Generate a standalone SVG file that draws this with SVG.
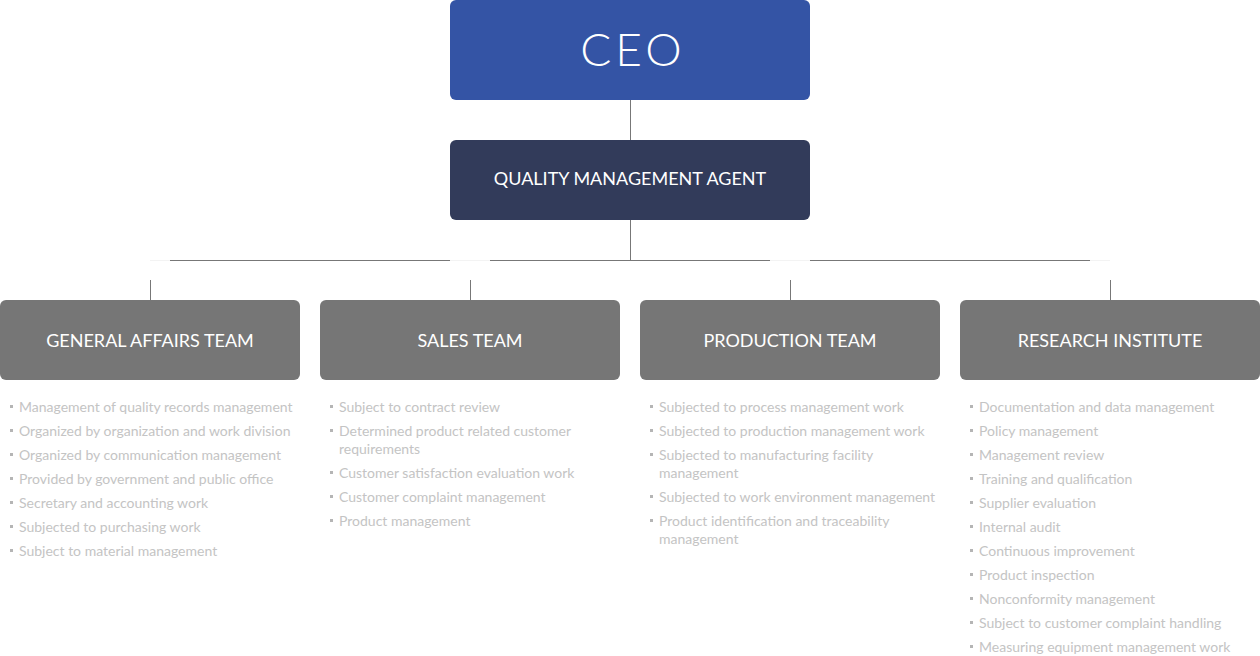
<svg xmlns="http://www.w3.org/2000/svg" width="1260" height="656" viewBox="0 0 1260 656">
<style>
.box-ceo{fill:#3454a5}
.box-qma{fill:#323b5a}
.box-team{fill:#767676}
.t-ceo{font-family:Lato,"Liberation Sans",sans-serif;font-weight:300;font-size:46px;fill:#fff;text-anchor:middle;letter-spacing:4px}
.t-head{font-family:Lato,"Liberation Sans",sans-serif;font-size:18px;fill:#fff;text-anchor:middle}
.item{font-family:Lato,"Liberation Sans",sans-serif;font-size:14px;fill:#c4c4c4}
.line{stroke:#777;stroke-width:1;fill:none}
.faint{stroke:#f3f3f3;stroke-width:1;fill:none}
</style>
<defs>
<rect id="dot" width="3" height="3" fill="#b5b5b5"/>
</defs>
<rect width="1260" height="656" fill="#fff"/>
<g id="connectors">
<path class="line" d="M630.5 100V140M630.5 220V260.5M170 260.5H450M490 260.5H770M810 260.5H1090M150.5 280V300M470.5 280V300M790.5 280V300M1110.5 280V300"/>
<path class="faint" d="M150 260.5H170M450 260.5H490M770 260.5H810M1090 260.5H1110"/>
</g>
<g id="ceo">
<rect class="box-ceo" x="450" y="0" width="360" height="100" rx="6"/>
<text class="t-ceo" x="633" y="66">CEO</text>
</g>
<g id="qma">
<rect class="box-qma" x="450" y="140" width="360" height="80" rx="6"/>
<text class="t-head" x="630" y="185">QUALITY MANAGEMENT AGENT</text>
</g>
<g id="general-affairs">
<rect class="box-team" x="0" y="300" width="300" height="80" rx="6"/>
<text class="t-head" x="150" y="347">GENERAL AFFAIRS TEAM</text>
<use href="#dot" x="10" y="405"/><text class="item" x="19" y="412">Management of quality records management</text>
<use href="#dot" x="10" y="429"/><text class="item" x="19" y="436">Organized by organization and work division</text>
<use href="#dot" x="10" y="453"/><text class="item" x="19" y="460">Organized by communication management</text>
<use href="#dot" x="10" y="477"/><text class="item" x="19" y="484">Provided by government and public office</text>
<use href="#dot" x="10" y="501"/><text class="item" x="19" y="508">Secretary and accounting work</text>
<use href="#dot" x="10" y="525"/><text class="item" x="19" y="532">Subjected to purchasing work</text>
<use href="#dot" x="10" y="549"/><text class="item" x="19" y="556">Subject to material management</text>
</g>
<g id="sales">
<rect class="box-team" x="320" y="300" width="300" height="80" rx="6"/>
<text class="t-head" x="470" y="347">SALES TEAM</text>
<use href="#dot" x="330" y="405"/><text class="item" x="339" y="412">Subject to contract review</text>
<use href="#dot" x="330" y="429"/><text class="item" x="339" y="436">Determined product related customer</text>
<text class="item" x="339" y="454">requirements</text>
<use href="#dot" x="330" y="471"/><text class="item" x="339" y="478">Customer satisfaction evaluation work</text>
<use href="#dot" x="330" y="495"/><text class="item" x="339" y="502">Customer complaint management</text>
<use href="#dot" x="330" y="519"/><text class="item" x="339" y="526">Product management</text>
</g>
<g id="production">
<rect class="box-team" x="640" y="300" width="300" height="80" rx="6"/>
<text class="t-head" x="790" y="347">PRODUCTION TEAM</text>
<use href="#dot" x="650" y="405"/><text class="item" x="659" y="412">Subjected to process management work</text>
<use href="#dot" x="650" y="429"/><text class="item" x="659" y="436">Subjected to production management work</text>
<use href="#dot" x="650" y="453"/><text class="item" x="659" y="460">Subjected to manufacturing facility</text>
<text class="item" x="659" y="478">management</text>
<use href="#dot" x="650" y="495"/><text class="item" x="659" y="502">Subjected to work environment management</text>
<use href="#dot" x="650" y="519"/><text class="item" x="659" y="526">Product identification and traceability</text>
<text class="item" x="659" y="544">management</text>
</g>
<g id="research">
<rect class="box-team" x="960" y="300" width="300" height="80" rx="6"/>
<text class="t-head" x="1110" y="347">RESEARCH INSTITUTE</text>
<use href="#dot" x="970" y="405"/><text class="item" x="979" y="412">Documentation and data management</text>
<use href="#dot" x="970" y="429"/><text class="item" x="979" y="436">Policy management</text>
<use href="#dot" x="970" y="453"/><text class="item" x="979" y="460">Management review</text>
<use href="#dot" x="970" y="477"/><text class="item" x="979" y="484">Training and qualification</text>
<use href="#dot" x="970" y="501"/><text class="item" x="979" y="508">Supplier evaluation</text>
<use href="#dot" x="970" y="525"/><text class="item" x="979" y="532">Internal audit</text>
<use href="#dot" x="970" y="549"/><text class="item" x="979" y="556">Continuous improvement</text>
<use href="#dot" x="970" y="573"/><text class="item" x="979" y="580">Product inspection</text>
<use href="#dot" x="970" y="597"/><text class="item" x="979" y="604">Nonconformity management</text>
<use href="#dot" x="970" y="621"/><text class="item" x="979" y="628">Subject to customer complaint handling</text>
<use href="#dot" x="970" y="645"/><text class="item" x="979" y="652">Measuring equipment management work</text>
</g>
</svg>
